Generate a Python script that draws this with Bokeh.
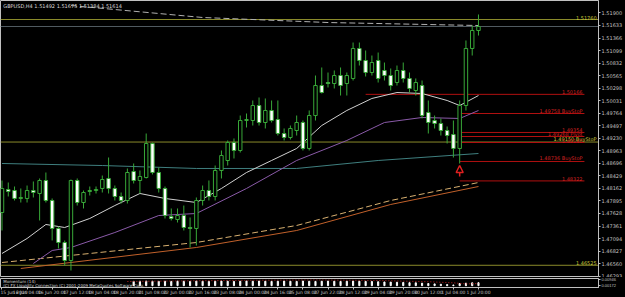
from bokeh.plotting import figure
from bokeh.models import Range1d, FixedTicker, ColumnDataSource, Label, Arrow, NormalHead, NumeralTickFormatter
from bokeh.layouts import column
from bokeh.embed import file_html
from bokeh.resources import INLINE
from bokeh.core.properties import value

# ---------------- data ----------------
opens = [1.47649,1.48139,1.48118,1.47948,1.47948,1.48118,1.48054,1.48331,1.47905,1.47309,
         1.47010,1.46627,1.48331,1.47862,1.48097,1.48118,1.48161,1.48374,1.48161,1.47990,
         1.47905,1.48523,1.48331,1.48395,1.49119,1.48501,1.48161,1.47564,1.47500,1.47585,
         1.47330,1.47309,1.47905,1.48118,1.47990,1.48544,1.48757,1.49140,1.48970,1.49609,
         1.49609,1.49928,1.49566,1.49822,1.49630,1.49332,1.49247,1.49396,1.49566,1.49013,
         1.49715,1.50354,1.50418,1.50397,1.50567,1.50397,1.50504,1.51143,1.50887,1.50631,
         1.50887,1.50674,1.50567,1.50418,1.50674,1.50504,1.50248,1.50354,1.49779,1.49609,
         1.49545,1.49396,1.49311,1.49013,1.49928,1.51143,1.51526]
highs = [1.48331,1.48288,1.48203,1.48161,1.48224,1.48310,1.48374,1.48501,1.47948,1.47351,
         1.47053,1.48352,1.48374,1.48118,1.48203,1.48203,1.48437,1.48821,1.48224,1.48075,
         1.48587,1.48693,1.48544,1.49332,1.49140,1.48608,1.48203,1.47735,1.47735,1.47798,
         1.47543,1.47969,1.48224,1.48331,1.48650,1.48970,1.49183,1.49226,1.49715,1.49758,
         1.50035,1.50099,1.50078,1.50035,1.50035,1.49439,1.49502,1.49715,1.49609,1.49822,
         1.50567,1.50738,1.50631,1.50674,1.50738,1.50631,1.51270,1.51270,1.51100,1.50993,
         1.51057,1.50844,1.50717,1.50780,1.50844,1.50631,1.50504,1.50461,1.50035,1.49715,
         1.49652,1.49481,1.49609,1.50035,1.51313,1.51632,1.51867]
lows = [1.47266,1.47990,1.47905,1.47862,1.47862,1.47969,1.47479,1.47862,1.47053,1.46883,
        1.46520,1.46414,1.47798,1.47735,1.48011,1.48054,1.48075,1.48054,1.47905,1.47841,
        1.47841,1.48267,1.48054,1.48374,1.48459,1.48075,1.47522,1.47479,1.47436,1.47266,
        1.46904,1.46946,1.47798,1.47905,1.47905,1.48374,1.48650,1.48800,1.48927,1.49460,
        1.49502,1.49502,1.49439,1.49566,1.49289,1.49183,1.49204,1.49289,1.48970,1.48970,
        1.49609,1.50184,1.50312,1.50291,1.50141,1.50141,1.50461,1.50780,1.50546,1.50567,
        1.50418,1.50461,1.50248,1.50354,1.50418,1.50205,1.50141,1.49652,1.49332,1.49439,
        1.49289,1.49119,1.48821,1.48693,1.49822,1.50993,1.51419]
closes = [1.48161,1.48097,1.47948,1.47969,1.48118,1.48075,1.48331,1.47905,1.47309,1.47010,
          1.46627,1.48331,1.47862,1.48075,1.48118,1.48139,1.48352,1.48161,1.47990,1.47905,
          1.48501,1.48331,1.48416,1.49119,1.48501,1.48161,1.47585,1.47522,1.47585,1.47330,
          1.47309,1.47905,1.48118,1.47990,1.48544,1.48863,1.49140,1.48970,1.49609,1.49630,
          1.49928,1.49566,1.49822,1.49609,1.49332,1.49247,1.49439,1.49566,1.49013,1.49715,
          1.50354,1.50205,1.50397,1.50567,1.50354,1.50567,1.51143,1.50887,1.50631,1.50844,
          1.50504,1.50567,1.50354,1.50674,1.50504,1.50291,1.50418,1.49715,1.49566,1.49545,
          1.49396,1.49289,1.49013,1.49928,1.51143,1.51526,1.51611]

time_labels = ["15 Jun 2010","16 Jun 04:00","16 Jun 20:00","17 Jun 12:00","18 Jun 04:00",
               "18 Jun 20:00","21 Jun 08:00","22 Jun 00:00","22 Jun 16:00","23 Jun 08:00",
               "24 Jun 00:00","24 Jun 16:00","25 Jun 08:00","27 Jun 22:00","28 Jun 12:00",
               "29 Jun 04:00","29 Jun 20:00","30 Jun 12:00","1 Jul 04:00","1 Jul 20:00"]
time_label_bars = [0,4,8,12,16,20,24,28,32,36,40,44,48,52,56,60,64,68,72,76]

price_ticks = [1.51900,1.51633,1.51366,1.51099,1.50832,1.50565,1.50298,1.50031,1.49764,1.49497,
               1.49230,1.48963,1.48696,1.48429,1.48162,1.47895,1.47628,1.47361,1.47094,1.46827,
               1.46560,1.46293]

# moving averages, read at selected bars
ma_white_bars = [0,4,7,10,14,18,22,26,31,35,39,43,47,51,55,59,63,67,71,73,76]
ma_white = [1.46776,1.47096,1.47394,1.47330,1.47522,1.47798,1.48054,1.47948,1.47862,1.48161,
            1.48501,1.48757,1.49013,1.49502,1.49822,1.50078,1.50205,1.50184,1.50035,1.49928,1.50141]
ma_purple_bars = [5,8,11,18,25,31,39,47,55,61,67,73,76]
ma_purple = [1.46563,1.46840,1.46904,1.47223,1.47585,1.47628,1.48161,1.48757,1.49183,1.49566,
             1.49673,1.49652,1.49822]
ma_teal_bars = [0,16,31,47,60,76]
ma_teal = [1.48693,1.48650,1.48587,1.48587,1.48757,1.48906]
ma_tan_bars = [0,31,47,62,76]
ma_tan = [1.46584,1.47010,1.47373,1.47905,1.48288]
ma_brown_bars = [3,31,47,62,76]
ma_brown = [1.46457,1.46904,1.47266,1.47820,1.48203]
ma_grey_bars = [11,32,52,76]
ma_grey = [1.52058,1.51803,1.51696,1.51632]

# horizontal level lines
lvl_price = [1.51760,1.50166,1.49758,1.49354,1.49268,1.49150,1.49140,1.48736,1.48322,1.46525]
lvl_text = ["1.51760","1.50166","1.49758 BuyStoP","1.49354","1.49268 Pivot","1.49150 BuyStoP",
            "1.49140","1.48736 BuyStoP","1.48322","1.46525"]
lvl_kind = ["yellow","red","red","red","red","yellow","red","red","red","yellow"]
lvl_start = [None,58,73,73,73,None,73,73,73,None]

# lower indicator panel
hist_bars = list(range(21,77))
hist_vals = [0.60,0.62,0.64,0.62,0.60,0.62,0.60,0.63,0.62,0.60,0.64,0.62,0.60,0.62,0.64,0.62,
             0.60,0.62,0.64,0.62,0.65,0.62,0.60,0.62,0.64,0.62,0.60,0.65,0.62,0.60,0.62,0.64,
             0.62,0.60,0.62,0.64,0.62,0.60,0.58,0.55,0.52,0.50,0.48,0.45,0.42,0.40,0.35,0.30,
             0.25,0.20,0.15,0.10,0.30,0.35,0.40,0.42]
sig_bars = [20,30,40,50,60,68,72,74,76]
sig_vals = [0.58,0.68,0.75,0.80,0.72,0.55,0.40,0.25,0.30]

current_price = 1.51611
arrow_bar = 73
arrow_tail = 1.48416
arrow_tip = 1.48650

# ---------------- figure ----------------
PX = 6.28
RB = 26
FW = 625 - RB
X0 = -1.5 / PX
X1 = X0 + FW / PX
xr = Range1d(X0, X1)

GREEN = "#38a838"
AX = "#c0c0c0"
FONT = "DejaVu Sans"

p = figure(width=625, height=277, x_range=xr, y_range=Range1d(1.46286, 1.52165),
           output_backend="svg", toolbar_location=None, x_axis_location=None,
           y_axis_location="right", min_border_left=0, min_border_top=0,
           min_border_bottom=1, min_border_right=RB,
           background_fill_color="black", border_fill_color="black",
           outline_line_color=AX)
p.xgrid.visible = False
p.ygrid.visible = False
ya = p.yaxis[0]
ya.ticker = FixedTicker(ticks=price_ticks)
ya.formatter = NumeralTickFormatter(format="0.00000")
ya.major_label_text_font_size = "5px"
ya.major_label_text_font = FONT
ya.major_label_text_color = AX
ya.axis_line_color = AX
ya.major_tick_line_color = AX
ya.major_tick_out = 2
ya.major_tick_in = 0
ya.minor_tick_line_color = None
ya.major_label_standoff = 1

idx = list(range(len(opens)))
bull = [c >= o for o, c in zip(opens, closes)]
src = ColumnDataSource(dict(
    x=idx, o=opens, h=highs, l=lows, c=closes,
    top=[max(o, c) for o, c in zip(opens, closes)],
    bot=[min(o, c) for o, c in zip(opens, closes)],
    fill=["black" if b else "white" for b in bull]))

# horizontal levels
for pr, txt, kind, st in zip(lvl_price, lvl_text, lvl_kind, lvl_start):
    col = "#8a8a2a" if kind == "yellow" else "#b01010"
    tcol = "#c8c83a" if kind == "yellow" else "#d02020"
    xs = X0 if st is None else st
    xe = X1 if kind == "yellow" else 92.9
    p.segment(x0=[xs], y0=[pr], x1=[xe], y1=[pr], line_color=col, line_width=1)
    p.text(x=[xe - 0.3], y=[pr], text=[txt], text_align="right", text_baseline="bottom",
           text_color=tcol, text_font=value(FONT), text_font_size="5px")

# bid line
p.segment(x0=[X0], y0=[current_price], x1=[X1], y1=[current_price], line_color="#505a60", line_width=1)

# moving averages
p.line(ma_teal_bars, ma_teal, line_color="#3f7f7f", line_width=1)
p.line(ma_brown_bars, ma_brown, line_color="#c0602a", line_width=1)
p.line(ma_tan_bars, ma_tan, line_color="#d8b070", line_width=1, line_dash="6 3")
p.line(ma_purple_bars, ma_purple, line_color="#8a5aa8", line_width=1)
p.line(ma_white_bars, ma_white, line_color="#d0d0d0", line_width=1)
p.line(ma_grey_bars, ma_grey, line_color="#b0b0b0", line_width=1, line_dash="6 3")

# candles
p.segment(x0="x", y0="h", x1="x", y1="l", source=src, line_color=GREEN, line_width=1)
p.vbar(x="x", top="top", bottom="bot", width=0.55, source=src, fill_color="fill",
       line_color=GREEN, line_width=1)

# arrow
p.add_layout(Arrow(x_start=arrow_bar, y_start=arrow_tail, x_end=arrow_bar, y_end=arrow_tip,
                   line_color="#e02020", line_width=1.5,
                   end=NormalHead(size=7, fill_color=None, line_color="#e02020", line_width=1.5)))

# header
p.add_layout(Label(x=0.2, y=1.52120, text="GBPUSD,H4  1.51492 1.51675 1.51384 1.51614",
                   text_color="#d8d8d8", text_font=FONT, text_font_size="5px",
                   text_baseline="top"))
# current price marker on the axis
p.add_layout(Label(x=X1, y=current_price, text="1.51611", text_color="black",
                   text_font=FONT, text_font_size="5px", text_baseline="middle",
                   x_offset=2, background_fill_color="white"))

# ---------------- lower panel ----------------
q = figure(width=625, height=20, x_range=xr, y_range=Range1d(-0.25, 1.0),
           output_backend="svg", toolbar_location=None, y_axis_location="right",
           min_border_left=0, min_border_top=1, min_border_bottom=0, min_border_right=RB,
           background_fill_color="black", border_fill_color="black", outline_line_color=AX)
q.xgrid.visible = False
q.ygrid.visible = False
q.vbar(x=hist_bars, top=hist_vals, bottom=0, width=0.18, fill_color="white", line_color="white")
q.line(sig_bars, sig_vals, line_color="#c02020", line_dash="1 2", line_width=1)
qy = q.yaxis[0]
qy.ticker = FixedTicker(ticks=[0.85, 0.05])
qy.major_label_overrides = {0.85: "0.00946", 0.05: "0.00172"}
qy.major_label_text_font_size = "4px"
qy.major_label_text_color = AX
qy.axis_line_color = AX
qy.major_tick_line_color = AX
qy.major_tick_out = 2
qy.major_tick_in = 0
qy.minor_tick_line_color = None
qy.major_label_standoff = 1
qx = q.xaxis[0]
qx.ticker = FixedTicker(ticks=time_label_bars)
qx.major_label_overrides = {b: t for b, t in zip(time_label_bars, time_labels)}
qx.major_label_text_align = "left"
qx.major_label_text_font_size = "4.5px"
qx.major_label_text_font = FONT
qx.major_label_text_color = AX
qx.axis_line_color = AX
qx.major_tick_line_color = AX
qx.major_tick_out = 2
qx.major_tick_in = 0
qx.minor_tick_line_color = None
qx.major_label_standoff = 0
q.add_layout(Label(x=0.2, y=0.95, text="Momentum (14)", text_color="#d8d8d8",
                   text_font=FONT, text_font_size="4px", text_baseline="top"))
q.add_layout(Label(x=0.2, y=0.35, text="(C) FX Liquidity Connection (C) 2001-2009 MetaQuotes Software Corp.",
                   text_color="#d8d8d8", text_font=FONT, text_font_size="4px", text_baseline="top"))

layout = column(p, q, spacing=0)
layout.styles = {"background-color": "black"}
open("out.html", "w").write(file_html(layout, INLINE))
